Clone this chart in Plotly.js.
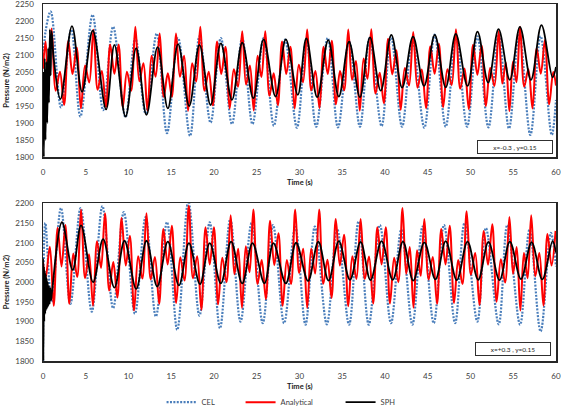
<!DOCTYPE html>
<html>
<head>
<meta charset="utf-8">
<script src="https://cdn.plot.ly/plotly-3.0.1.min.js"></script>
<style>
  html, body { margin: 0; padding: 0; background: #fff; }
  #chart { width: 561px; height: 415px; }
</style>
</head>
<body>
<div id="chart"></div>
<script>
// Pressure histories at two probe points, three methods (CEL, analytical, SPH).
// Values are the local peaks/troughs of each signal; the curves are splined through them.

const seriesNames = ['CEL', 'Analytical', 'SPH'];
const probeLabels = ['x=-0.3 , y=0.15', 'x=+0.3 , y=0.15'];
const timeTitle = '<b>Time (s)</b>';
const pressureTitle = '<b>Pressure (N/m2)</b>';

// ---- Upper panel (x=-0.3) ----
const celTopT = [0, 0.3, 0.9, 2.1, 3.3, 4.37, 5.8, 7.03, 8.2, 9.65,
  10.8, 12.0, 13.3, 14.5, 15.8, 17.2, 18.3, 19.6, 20.8, 22.1,
  23.3, 24.5, 25.8, 27.0, 28.3, 29.7, 30.8, 31.95, 33.3, 34.5,
  35.8, 37.07, 38.2, 39.6, 40.7, 42.0, 43.2, 44.6, 45.8, 47.1,
  48.3, 49.6, 50.8, 52.1, 53.3, 54.5, 55.7, 57.0, 58.2, 59.5, 60];
const celTopP = [2060, 2170, 2228, 1946, 2175, 1919, 2218, 1938, 2183, 1917,
  2150, 1928, 2163, 1870, 2150, 1862, 2155, 1901, 2150, 1897,
  2150, 1897, 2150, 1892, 2145, 1886, 2144, 1889, 2150, 1887,
  2140, 1889, 2150, 1891, 2155, 1889, 2145, 1886, 2160, 1889,
  2155, 1889, 2155, 1887, 2160, 1884, 2165, 1865, 2155, 1865, 1968];

const anaTopT = [0, 0.3, 0.6, 1.0, 1.49, 1.98, 2.47, 2.96, 3.45, 3.94,
  4.43, 4.92, 5.41, 5.9, 6.39, 6.88, 7.37, 7.86, 8.35, 8.84,
  9.33, 9.82, 10.31, 10.8, 11.27, 11.75, 12.22, 12.7, 13.17, 13.65,
  14.12, 14.6, 15.07, 15.55, 16.02, 16.5, 16.97, 17.45, 17.92, 18.4,
  18.89, 19.38, 19.87, 20.36, 20.85, 21.34, 21.83, 22.32, 22.81, 23.3,
  23.75, 24.2, 24.65, 25.1, 25.55, 26.0, 26.49, 26.98, 27.47, 27.96,
  28.45, 28.94, 29.43, 29.92, 30.41, 30.9, 31.38, 31.86, 32.34, 32.82,
  33.3, 33.78, 34.26, 34.74, 35.22, 35.7, 36.15, 36.6, 37.05, 37.5,
  37.95, 38.4, 38.89, 39.38, 39.87, 40.36, 40.85, 41.34, 41.83, 42.32,
  42.81, 43.3, 43.8, 44.3, 44.8, 45.3, 45.8, 46.3, 46.8, 47.3,
  47.8, 48.3, 48.8, 49.3, 49.8, 50.3, 50.8, 51.3, 51.8, 52.3,
  52.8, 53.3, 53.72, 54.13, 54.55, 54.97, 55.38, 55.8, 56.28, 56.77,
  57.25, 57.74, 58.22, 58.71, 59.2, 59.68, 60];
const anaTopP = [2060, 2140, 2020, 2178, 1995, 2051, 1953, 2141, 2044, 2122,
  1943, 2069, 2019, 2174, 1998, 2053, 1947, 2131, 2045, 2131,
  1947, 2051, 1995, 2183, 2023, 2076, 1936, 2098, 2036, 2163,
  1977, 2046, 1977, 2163, 2036, 2098, 1936, 2076, 2022, 2183,
  1995, 2051, 1952, 2140, 2044, 2124, 1943, 2058, 2007, 2170,
  2013, 2069, 1937, 2098, 2035, 2170, 1980, 2046, 1952, 2140,
  2044, 2124, 1943, 2071, 2020, 2175, 1996, 2053, 1944, 2124,
  2044, 2142, 1955, 2053, 1996, 2175, 2027, 2082, 1936, 2090,
  2030, 2176, 1987, 2048, 1958, 2148, 2043, 2114, 1939, 2062,
  2010, 2168, 2004, 2057, 1944, 2126, 2045, 2133, 1947, 2058,
  2012, 2176, 2001, 2060, 1941, 2130, 2042, 2128, 1950, 2062,
  2009, 2170, 2016, 2078, 1935, 2081, 2020, 2183, 2007, 2058,
  1943, 2120, 2045, 2144, 1955, 2050, 2010];

const sphTopT = [0, 0.1, 0.2, 0.3, 0.4, 0.5, 0.6, 0.7, 0.8, 0.9, 1.0, 1.25,
  2.03, 3.39, 4.57, 5.82, 7.38, 8.35, 9.65, 10.9, 12.1, 13.4,
  14.6, 15.8, 17.1, 18.3, 19.6, 20.8, 22.1, 23.3, 24.6, 25.8,
  27.2, 28.4, 29.8, 30.8, 32.07, 33.36, 34.6, 35.8, 37.07, 38.24,
  39.5, 40.74, 42.0, 43.28, 44.57, 45.82, 47.1, 48.28, 49.65, 50.82,
  52.07, 53.28, 54.6, 55.78, 57.07, 58.3, 59.6, 60];
const sphTopP = [2050, 1800, 2090, 1850, 2080, 1900, 2120, 1960, 2175, 2040, 2170, 2090,
  1970, 2185, 1992, 2172, 1940, 2130, 1919, 2120, 1924, 2123,
  1943, 2132, 1950, 2130, 1953, 2134, 1968, 2136, 1973, 2146,
  1978, 2146, 1983, 2149, 1976, 2144, 1978, 2139, 1976, 2152,
  1995, 2159, 2004, 2154, 2009, 2159, 2005, 2162, 2009, 2169,
  2019, 2176, 2027, 2183, 2027, 2188, 2034, 2065];

// ---- Lower panel (x=+0.3) ----
const celBotT = [0, 0.27, 1.0, 2.1, 3.2, 4.4, 5.7, 6.95, 8.2, 9.45,
  10.75, 12.0, 13.2, 14.5, 15.7, 17.0, 18.3, 19.5, 20.7, 21.9,
  23.1, 24.4, 25.7, 26.9, 28.2, 29.5, 30.7, 31.8, 33.2, 34.4,
  35.8, 36.9, 38.1, 39.4, 40.7, 41.9, 43.2, 44.4, 45.7, 46.9,
  48.2, 49.3, 50.8, 51.8, 53.3, 54.3, 55.8, 56.9, 58.2, 59.4, 60];
const celBotP = [1800, 2150, 1950, 2188, 1945, 2188, 1925, 2193, 1934, 2178,
  1920, 2165, 1913, 2152, 1879, 2205, 1915, 2152, 1883, 2160,
  1900, 2150, 1896, 2145, 1896, 2140, 1892, 2141, 1893, 2135,
  1892, 2154, 1892, 2145, 1896, 2133, 1892, 2141, 1896, 2145,
  1896, 2150, 1900, 2137, 1893, 2145, 1892, 2133, 1875, 2125, 2040];

const anaBotT = [0, 0.3, 0.8, 1.25, 1.71, 2.17, 2.62, 3.08, 3.54, 4.0,
  4.45, 4.92, 5.38, 5.85, 6.32, 6.79, 7.25, 7.74, 8.22, 8.7,
  9.19, 9.68, 10.16, 10.65, 11.13, 11.62, 12.1, 12.6, 13.09, 13.59,
  14.08, 14.58, 15.07, 15.57, 16.06, 16.55, 17.05, 17.54, 18.03, 18.52,
  19.01, 19.5, 19.99, 20.48, 20.97, 21.46, 21.95, 22.39, 22.83, 23.27,
  23.72, 24.16, 24.6, 25.09, 25.58, 26.07, 26.56, 27.05, 27.54, 28.03,
  28.52, 29.01, 29.5, 29.96, 30.43, 30.9, 31.37, 31.83, 32.3, 32.78,
  33.27, 33.75, 34.24, 34.72, 35.21, 35.7, 36.18, 36.66, 37.15, 37.64,
  38.13, 38.62, 39.11, 39.6, 40.09, 40.58, 41.07, 41.56, 42.05, 42.48,
  42.9, 43.33, 43.75, 44.18, 44.6, 45.1, 45.59, 46.09, 46.58, 47.08,
  47.57, 48.07, 48.56, 49.06, 49.55, 50.05, 50.55, 51.05, 51.55, 52.05,
  52.55, 53.05, 53.55, 54.05, 54.55, 54.98, 55.4, 55.83, 56.25, 56.68,
  57.1, 57.58, 58.05, 58.53, 59.0, 59.48, 59.95];
const anaBotP = [2050, 2010, 2090, 1940, 2138, 2040, 2145, 1945, 2073, 2013,
  2184, 2010, 2071, 1940, 2104, 2036, 2175, 1979, 2051, 1961,
  2163, 2042, 2118, 1928, 2066, 2009, 2175, 2007, 2064, 1945,
  2135, 2045, 2143, 1947, 2063, 2004, 2194, 2010, 2066, 1930,
  2139, 2045, 2139, 1944, 2062, 2000, 2170, 2020, 2085, 1935,
  2091, 2025, 2184, 1995, 2056, 1957, 2156, 2043, 2124, 1940,
  2056, 1995, 2184, 2023, 2085, 1935, 2085, 2022, 2184, 1996,
  2057, 1960, 2160, 2042, 2120, 1939, 2066, 2008, 2160, 2008,
  2065, 1946, 2139, 2045, 2139, 1946, 2062, 2000, 2188, 2021,
  2089, 1935, 2081, 2016, 2160, 2007, 2064, 1945, 2135, 2045,
  2143, 1947, 2056, 1995, 2180, 2019, 2074, 1942, 2130, 2044,
  2147, 1950, 2058, 1999, 2165, 2021, 2089, 1928, 2074, 2010,
  2170, 2015, 2074, 1941, 2122, 2042, 2130];

const sphBotT = [0, 0.05, 0.1, 0.15, 0.2, 0.26, 0.32, 0.38, 0.44, 0.5,
  0.56, 0.62, 0.7, 0.78, 0.86, 0.95, 1.05,
  2.22, 3.47, 4.45, 5.86, 7.03, 8.35, 9.53, 10.9, 12.1, 13.36,
  14.6, 15.9, 17.07, 18.36, 19.5, 20.8, 22.0, 23.3, 24.5, 25.9,
  26.95, 28.4, 29.6, 31.0, 32.2, 33.4, 34.6, 35.9, 37.15, 38.3,
  39.6, 40.9, 42.1, 43.3, 44.6, 45.9, 47.1, 48.4, 49.65, 50.9,
  52.1, 53.4, 54.6, 55.9, 57.15, 58.4, 59.6, 60];
const sphBotP = [2060, 1800, 2040, 1900, 2030, 1920, 2020, 1930, 2010, 1935,
  2000, 1940, 1990, 1945, 1985, 1955, 1975,
  2152, 2031, 2144, 2000, 2109, 1986, 2105, 1983, 2105, 1989,
  2103, 1992, 2099, 1995, 2099, 1997, 2103, 1997, 2099, 1997,
  2099, 1997, 2100, 2003, 2103, 2004, 2104, 2006, 2102, 2005,
  2104, 2006, 2103, 2004, 2101, 2007, 2104, 2005, 2103, 2006,
  2102, 2005, 2103, 2008, 2101, 2007, 2104, 2075];

// ---- Styling ----
const celLine = { color: '#4A7EBB', width: 2.2, dash: '2px,1.4px', shape: 'spline', smoothing: 1 };
const anaLine = { color: '#FF0000', width: 2, shape: 'spline', smoothing: 1 };
const sphLine = { color: '#000000', width: 1.8, shape: 'spline', smoothing: 1 };

function series(x, y, name, line, xa, ya, showlegend, legendwidth) {
  return { type: 'scatter', mode: 'lines', x: x, y: y, name: name, line: line,
           xaxis: xa, yaxis: ya, showlegend: showlegend, legendwidth: legendwidth,
           hoverinfo: 'skip' };
}

const traces = [
  series(celTopT, celTopP, seriesNames[0], celLine, 'x', 'y', true, 34),
  series(anaTopT, anaTopP, seriesNames[1], anaLine, 'x', 'y', true, 55),
  series(sphTopT, sphTopP, seriesNames[2], sphLine, 'x', 'y', true, 20),
  series(celBotT, celBotP, seriesNames[0], celLine, 'x2', 'y2', false),
  series(anaBotT, anaBotP, seriesNames[1], anaLine, 'x2', 'y2', false),
  series(sphBotT, sphBotP, seriesNames[2], sphLine, 'x2', 'y2', false)
];

const fontFamily = 'Lato, "Open Sans", "DejaVu Sans", sans-serif';
const titleFont = { family: fontFamily, size: 7.5, color: '#1a1a1a' };

function xAxis(anchor) {
  return {
    anchor: anchor, domain: [0, 1], range: [0, 60], tick0: 0, dtick: 5,
    showgrid: false, zeroline: false, showline: true, mirror: true,
    linecolor: '#262626', linewidth: 1.5, ticks: '', ticklabelstandoff: 7,
    ticklabeloverflow: 'allow',
    tickfont: { size: 8, color: '#404040' }, automargin: false
  };
}
function yAxis(anchor, domain, range) {
  return {
    anchor: anchor, domain: domain, range: range, tick0: 1800, dtick: 50,
    showgrid: false, zeroline: false, showline: true, mirror: true,
    linecolor: '#262626', linewidth: 1.5, ticks: '', ticklabelstandoff: 6,
    ticklabeloverflow: 'allow',
    tickfont: { size: 8, color: '#404040' }, automargin: false,
    title: { text: pressureTitle, font: titleFont, standoff: 4 }
  };
}

// x-axis titles sit centred under each panel
function axisTitle(text, y) {
  return {
    text: text, xref: 'paper', yref: 'paper', x: 0.5, y: y,
    xanchor: 'center', yanchor: 'middle', showarrow: false, font: titleFont
  };
}

function probeBox(text, x, y) {
  return {
    text: text, xref: 'paper', yref: 'paper', x: x, y: y,
    xanchor: 'center', yanchor: 'middle', showarrow: false,
    width: 72, height: 10, borderpad: 1, borderwidth: 1,
    bordercolor: '#303030', bgcolor: '#ffffff',
    font: { family: fontFamily, size: 6.5, color: '#262626' }
  };
}

const layout = {
  width: 561, height: 415,
  margin: { l: 43, r: 5, t: 4, b: 54 },
  paper_bgcolor: '#ffffff', plot_bgcolor: '#ffffff',
  font: { family: fontFamily, size: 8, color: '#404040' },
  showlegend: true,
  legend: {
    orientation: 'h', xref: 'container', yref: 'container',
    x: 0.288, y: 0.031, xanchor: 'left', yanchor: 'middle',
    font: { family: fontFamily, size: 7.5, color: '#404040' },
    bgcolor: 'rgba(0,0,0,0)', itemclick: false, itemdoubleclick: false
  },
  xaxis: xAxis('y'),
  yaxis: yAxis('x', [0.5714, 1], [1800, 2250]),
  xaxis2: xAxis('y2'),
  yaxis2: yAxis('x2', [0, 0.4417], [1800, 2200]),
  annotations: [
    axisTitle(timeTitle, 0.4986),
    axisTitle(timeTitle, -0.0728),
    probeBox(probeLabels[0], 0.921, 0.6008),
    probeBox(probeLabels[1], 0.916, 0.035)
  ]
};

Plotly.newPlot('chart', traces, layout, { displayModeBar: false, staticPlot: true });
</script>
</body>
</html>
